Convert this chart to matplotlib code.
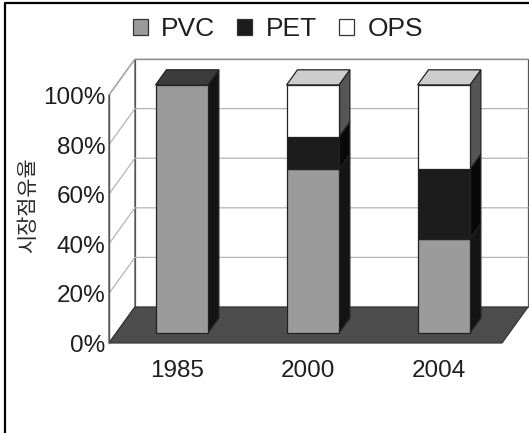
import matplotlib
matplotlib.use('Agg')
import matplotlib.pyplot as plt
from matplotlib.patches import Polygon, Patch
from matplotlib.lines import Line2D

plt.rcParams['font.family'] = ['Liberation Sans', 'DejaVu Sans']

years = ['1985', '2000', '2004']
materials = ['PVC', 'PET', 'OPS']
pvc = [100, 66, 38]
pet = [0, 13, 28]
ops = [0, 21, 34]
yticks = [0, 20, 40, 60, 80, 100]

front_col = {'PVC': '#9b9b9b', 'PET': '#1c1c1c', 'OPS': '#ffffff'}
side_col = {'PVC': '#141414', 'PET': '#080808', 'OPS': '#555555'}
top_col = {'PVC': '#3c3c3c', 'PET': '#2a2a2a', 'OPS': '#cdcdcd'}

# oblique depth of the box (data units), bar width and bar depth range
DX, DY = 0.198, 14.5
bar_w = 0.4
d0, d1 = 0.28, 0.70

fig = plt.figure(figsize=(5.29, 4.33), dpi=100)
ax = fig.add_axes([0, 0, 1, 1])
ax.set_xlim(-1.332, 2.706)
ax.set_ylim(-36.3, 138.3)
ax.axis('off')


def face(pts, fc, ec='#222222', lw=0.9, z=2):
    ax.add_patch(Polygon(pts, closed=True, facecolor=fc, edgecolor=ec, linewidth=lw, zorder=z))


# walls and floor
x_l, x_r = -0.5, len(years) - 0.5
face([(x_l + DX, DY), (x_r + DX, DY), (x_r + DX, 100 + DY), (x_l + DX, 100 + DY)],
     'white', ec='#555555', z=1)
face([(x_l, 0), (x_l + DX, DY), (x_l + DX, 100 + DY), (x_l, 100)], 'white', ec='#555555', z=1)
for v in yticks[1:]:
    ax.plot([x_l, x_l + DX, x_r + DX], [v, v + DY, v + DY], color='#b4b4b4', lw=0.9, zorder=1.5)
face([(x_l, 0), (x_r, 0), (x_r + DX, DY), (x_l + DX, DY)], '#4d4d4d', ec='#333333', z=1.8)
ax.plot([x_l, x_l], [0, 100], color='#555555', lw=1.0, zorder=1.9)

# stacked 3d bars
series = {'PVC': pvc, 'PET': pet, 'OPS': ops}
ddx, ddy = (d1 - d0) * DX, (d1 - d0) * DY
for i in range(len(years)):
    bottom = 0
    last = None
    for name in materials:
        v = series[name][i]
        if v == 0:
            continue
        x0 = i - bar_w / 2 + d0 * DX
        x1 = x0 + bar_w
        yb = bottom + d0 * DY
        yt = bottom + v + d0 * DY
        face([(x1, yb), (x1 + ddx, yb + ddy), (x1 + ddx, yt + ddy), (x1, yt)], side_col[name], z=3)
        face([(x0, yb), (x1, yb), (x1, yt), (x0, yt)], front_col[name], z=4)
        bottom += v
        last = name
    x0 = i - bar_w / 2 + d0 * DX
    x1 = x0 + bar_w
    yt = bottom + d0 * DY
    face([(x0, yt), (x1, yt), (x1 + ddx, yt + ddy), (x0 + ddx, yt + ddy)], top_col[last], z=4)

# axis labels
for v in yticks:
    ax.text(-0.525, v - 1.2, f'{v}%', ha='right', va='center', fontsize=17.5, color='#1e1e1e')
for i, yr in enumerate(years):
    ax.text(i + 0.02, -11.2, yr, ha='center', va='center', fontsize=17.5, color='#1e1e1e')
ax.text(-1.118, 55.6, '시장점유율', rotation=90, ha='center', va='center', fontsize=15,
        color='#2a2a2a', family=['Noto Sans CJK KR', 'DejaVu Sans'])

handles = [Patch(facecolor=front_col[m], edgecolor='#333333', linewidth=0.9) for m in materials]
fig.legend(handles, materials, loc='center', bbox_to_anchor=(0.525, 1 - 29 / 433), ncol=3,
           frameon=False, fontsize=19, handlelength=0.57, handleheight=0.57,
           handletextpad=0.5, columnspacing=0.85, labelcolor='#1e1e1e')

# outer frame
fig.add_artist(Line2D([5 / 529, 5 / 529, 1], [0, 1 - 3 / 433, 1 - 3 / 433],
                      transform=fig.transFigure, color='black', lw=1.6))

fig.savefig('out.png', dpi=100)
